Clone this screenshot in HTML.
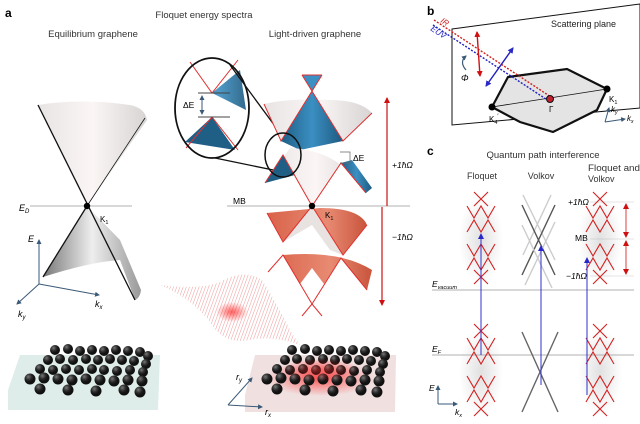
<!DOCTYPE html>
<html><head><meta charset="utf-8"><style>
html,body{margin:0;padding:0;background:#fff;}
svg{display:block;font-family:"Liberation Sans",sans-serif;}
</style></head><body>
<svg width="640" height="424" viewBox="0 0 640 424" xmlns="http://www.w3.org/2000/svg">
<defs>
<linearGradient id="wg" x1="0" x2="1"><stop offset="0" stop-color="#e8e4e4"/><stop offset=".5" stop-color="#fbf6f5"/><stop offset="1" stop-color="#d8d4d4"/></linearGradient>
<linearGradient id="gg" x1="0" x2="1"><stop offset="0" stop-color="#777"/><stop offset=".5" stop-color="#eee"/><stop offset="1" stop-color="#999"/></linearGradient>
<linearGradient id="bg" x1="0" x2="1"><stop offset="0" stop-color="#1f5f86"/><stop offset=".5" stop-color="#3b8fc2"/><stop offset="1" stop-color="#1d5a80"/></linearGradient>
<linearGradient id="og" x1="0" x2="1"><stop offset="0" stop-color="#d9624a"/><stop offset=".6" stop-color="#e88a72"/><stop offset="1" stop-color="#c9543c"/></linearGradient>
<radialGradient id="glow"><stop offset="0" stop-color="#ff2020" stop-opacity=".7"/><stop offset="1" stop-color="#ff2020" stop-opacity="0"/></radialGradient>
<radialGradient id="sh"><stop offset="0" stop-color="#999" stop-opacity=".3"/><stop offset="1" stop-color="#999" stop-opacity="0"/></radialGradient>
<radialGradient id="ball" cx=".35" cy=".3"><stop offset="0" stop-color="#777"/><stop offset=".6" stop-color="#2a2a2a"/><stop offset="1" stop-color="#111"/></radialGradient>
<pattern id="stripes" width="3" height="3" patternUnits="userSpaceOnUse" patternTransform="rotate(20)"><line x1="0" y1="0" x2="0" y2="3" stroke="#e04848" stroke-width="1"/></pattern>
<marker id="ar" markerUnits="userSpaceOnUse" markerWidth="6" markerHeight="6" refX="5" refY="3" orient="auto-start-reverse"><path d="M0,0L6,3L0,6z" fill="#d01010"/></marker>
<marker id="ab" markerUnits="userSpaceOnUse" markerWidth="6" markerHeight="6" refX="5" refY="3" orient="auto-start-reverse"><path d="M0,0L6,3L0,6z" fill="#2828c8"/></marker>
<marker id="ak" markerUnits="userSpaceOnUse" markerWidth="5" markerHeight="5" refX="4" refY="2.5" orient="auto-start-reverse"><path d="M0,0L5,2.5L0,5z" fill="#3a5a78"/></marker>
<g id="zz" fill="none" stroke="#d42020" stroke-width="1.1">
<path d="M-7,0 L7,14 M7,0 L-7,14"/>
<path d="M-14,14 L-7,26 L0,14 L7,26 L14,14"/>
<path d="M-14,40 L-7,28 L0,40 L7,28 L14,40"/>
<path d="M-14,52 L-7,64 L0,52 L7,64 L14,52"/>
<path d="M-14,78 L-7,66 L0,78 L7,66 L14,78"/>
<path d="M-7,78 L7,92 M7,78 L-7,92"/>
</g>
</defs>

<text x="5" y="17" font-size="12" font-weight="bold">a</text>
<text x="204" y="18" font-size="9.5" text-anchor="middle" fill="#333">Floquet energy spectra</text>
<text x="93" y="37" font-size="9.5" text-anchor="middle" fill="#333">Equilibrium graphene</text>
<text x="315" y="37" font-size="9.5" text-anchor="middle" fill="#333">Light-driven graphene</text>

<path d="M38,105 L87,206 L147,120 Q145,108 130,105 Q80,98 38,105z" fill="url(#wg)"/>
<path d="M87,206 L43,277 Q90,262 120,260 L135,300 Q140,298 141,290 L120,240z" fill="url(#gg)"/>
<line x1="38" y1="105" x2="135" y2="300" stroke="#111" stroke-width="1.3"/>
<line x1="87" y1="206" x2="43" y2="277" stroke="#111" stroke-width="1.3"/>
<line x1="87" y1="206" x2="145" y2="118" stroke="#111" stroke-width=".8"/>
<line x1="30" y1="206" x2="132" y2="206" stroke="#999" stroke-width=".8"/>
<circle cx="87" cy="206" r="3.2" fill="#000"/>
<text x="19" y="211" font-size="9" font-style="italic">E<tspan font-size="6" dy="2">D</tspan></text>
<text x="100" y="222" font-size="8">K<tspan font-size="5.5" dy="2">1</tspan></text>
<line x1="39" y1="284" x2="39" y2="240" stroke="#3a5a78" marker-end="url(#ak)"/>
<line x1="39" y1="284" x2="99" y2="295" stroke="#3a5a78" marker-end="url(#ak)"/>
<line x1="39" y1="284" x2="17" y2="304" stroke="#3a5a78" marker-end="url(#ak)"/>
<text x="28" y="242" font-size="9" font-style="italic">E</text>
<text x="95" y="307" font-size="9" font-style="italic">k<tspan font-size="6" dy="2">x</tspan></text>
<text x="18" y="317" font-size="9" font-style="italic">k<tspan font-size="6" dy="2">y</tspan></text>

<ellipse cx="212" cy="108" rx="37" ry="50" fill="#fff"/>
<path d="M190,62 L212,93 L240,70 L246,110 L212,93 z" fill="url(#bg)" opacity=".9"/>
<path d="M185,142 L212,117 L235,150 z" fill="#1f5f86"/>
<path d="M190,62 L212,93 L238,60" fill="none" stroke="#e03030" stroke-width="1"/>
<path d="M186,148 L212,117 L238,150" fill="none" stroke="#e03030" stroke-width="1"/>
<line x1="198" y1="93" x2="230" y2="93" stroke="#444"/>
<line x1="198" y1="117" x2="230" y2="117" stroke="#444"/>
<line x1="202" y1="96" x2="202" y2="114" stroke="#3a5a78" marker-end="url(#ak)" marker-start="url(#ak)"/>
<text x="183" y="108" font-size="8.5">ΔE</text>
<ellipse cx="212" cy="108" rx="37" ry="50" fill="none" stroke="#111" stroke-width="1.8"/>
<line x1="230" y1="65" x2="283" y2="137" stroke="#111" stroke-width="1.3"/>
<line x1="215" y1="158" x2="283" y2="172" stroke="#111" stroke-width="1.3"/>

<path d="M302,75 L322,75 L312,91z" fill="#3b8fc2"/>
<path d="M264,104 L281,141 L312,91 L343,141 L372,113 Q360,100 330,100 Q290,98 264,104z" fill="url(#wg)"/>
<path d="M281,141 L312,91 L343,141 L300,150z" fill="url(#bg)"/>
<path d="M265,183 L283,155 L312,206 L341,163 L366,193 Q340,150 290,148z" fill="url(#wg)"/>
<path d="M265,183 L283,155 L295,175z" fill="#1f5f86"/>
<path d="M341,163 L366,193 L372,188 L352,160z" fill="url(#bg)"/>
<path d="M302,75 L322,75 M302,75 L343,141 L372,113 M322,75 L281,141 L264,104" fill="none" stroke="#e03030" stroke-width="1"/>
<path d="M265,183 L283,155 L312,206 L341,163 L366,193" fill="none" stroke="#e03030" stroke-width="1"/>
<path d="M267,213 L283,242 L312,206 L343,255 L367,225 Q360,208 320,208z" fill="url(#og)"/>
<path d="M283,242 L312,206 L343,255 L330,250 L312,225z" fill="#e8e2e0"/>
<path d="M268,272 L283,255 L300,284 L312,268 L324,284 L341,258 L367,290 L372,270 Q340,250 283,255z" fill="url(#og)"/>
<path d="M267,213 L283,242 L312,206 L343,255 L367,225" fill="none" stroke="#e03030" stroke-width="1"/>
<path d="M268,272 L283,255 L312,304 L341,258 L367,290 M312,304 L302,316 M312,304 L322,316" fill="none" stroke="#e03030" stroke-width="1"/>
<ellipse cx="283" cy="155" rx="18" ry="22" fill="none" stroke="#111" stroke-width="1.5"/>
<line x1="227" y1="206" x2="410" y2="206" stroke="#999" stroke-width=".8"/>
<circle cx="312" cy="206" r="3.2" fill="#000"/>
<text x="233" y="204" font-size="8.5">MB</text>
<text x="325" y="218" font-size="8">K<tspan font-size="5.5" dy="2">1</tspan></text>
<path d="M340,152 L350,152 L350,163 L340,163" fill="none" stroke="#666" stroke-width=".7"/>
<text x="353" y="161" font-size="8.5">ΔE</text>
<line x1="387" y1="206" x2="387" y2="98" stroke="#d01010" stroke-width="1.2" marker-end="url(#ar)"/>
<line x1="382" y1="207" x2="382" y2="305" stroke="#d01010" stroke-width="1.2" marker-end="url(#ar)"/>
<text x="392" y="168" font-size="8.5" font-style="italic">+1ħΩ</text>
<text x="392" y="240" font-size="8.5" font-style="italic">−1ħΩ</text>

<path d="M160,285 Q200,290 220,282 Q245,268 262,280 Q275,300 290,330 Q296,340 300,345 Q270,335 250,340 Q225,345 212,325 Q195,300 160,285z" fill="url(#stripes)" opacity=".55"/>
<ellipse cx="232" cy="312" rx="16" ry="10" fill="url(#glow)"/>

<path d="M8,390 L20,355 L160,355 L158,410 L8,410z" fill="#d6e8e4" opacity=".8"/>
<path d="M245,395 L255,355 L396,355 L395,412 L245,412z" fill="#f0e0e0"/>
<ellipse cx="320" cy="378" rx="55" ry="18" fill="url(#glow)"/>
<g id="lat" fill="url(#ball)">
<circle cx="55" cy="350" r="5"/><circle cx="68" cy="349" r="5"/><circle cx="80" cy="351" r="5"/><circle cx="92" cy="350" r="5"/><circle cx="104" cy="351" r="5"/><circle cx="116" cy="350" r="5"/><circle cx="128" cy="351" r="5"/><circle cx="140" cy="352" r="5"/><circle cx="148" cy="356" r="5"/>
<circle cx="48" cy="360" r="5"/><circle cx="60" cy="359" r="5"/><circle cx="73" cy="360" r="5"/><circle cx="86" cy="359" r="5"/><circle cx="98" cy="360" r="5"/><circle cx="110" cy="359" r="5"/><circle cx="122" cy="360" r="5"/><circle cx="134" cy="361" r="5"/><circle cx="146" cy="364" r="5"/>
<circle cx="40" cy="369" r="5"/><circle cx="53" cy="370" r="5"/><circle cx="66" cy="369" r="5"/><circle cx="79" cy="370" r="5"/><circle cx="92" cy="369" r="5"/><circle cx="104" cy="370" r="5"/><circle cx="117" cy="371" r="5"/><circle cx="130" cy="370" r="5"/><circle cx="143" cy="372" r="5"/>
<circle cx="30" cy="379" r="5.5"/><circle cx="44" cy="378" r="5.5"/><circle cx="58" cy="379" r="5.5"/><circle cx="72" cy="380" r="5.5"/><circle cx="86" cy="379" r="5.5"/><circle cx="100" cy="380" r="5.5"/><circle cx="114" cy="381" r="5.5"/><circle cx="128" cy="380" r="5.5"/><circle cx="142" cy="381" r="5.5"/>
<circle cx="40" cy="389" r="5.5"/><circle cx="68" cy="390" r="5.5"/><circle cx="96" cy="391" r="5.5"/><circle cx="124" cy="390" r="5.5"/><circle cx="140" cy="392" r="5.5"/>
</g>
<use href="#lat" transform="translate(237,0)"/>
<ellipse cx="320" cy="370" rx="40" ry="12" fill="url(#glow)" opacity=".6"/>
<line x1="228" y1="405" x2="252" y2="378" stroke="#3a5a78" marker-end="url(#ak)"/>
<line x1="228" y1="405" x2="262" y2="407" stroke="#3a5a78" marker-end="url(#ak)"/>
<text x="236" y="380" font-size="9" font-style="italic">r<tspan font-size="6" dy="2">y</tspan></text>
<text x="265" y="415" font-size="9" font-style="italic">r<tspan font-size="6" dy="2">x</tspan></text>

<text x="427" y="15" font-size="12" font-weight="bold">b</text>
<path d="M452,29 L640,4 L640,108 L452,125z" fill="#fff" stroke="#111" stroke-width="1"/>
<text x="551" y="27" font-size="9" fill="#222">Scattering plane</text>
<path d="M508,77 L567,69 L607,89 L597,110 L553,132 L520,122 L492,107z" fill="#e4e4e4" stroke="#111" stroke-width="2.2"/>
<line x1="492" y1="107" x2="607" y2="89" stroke="#111" stroke-width=".8"/>
<line x1="434" y1="20" x2="551" y2="97" stroke="#d02020" stroke-width="1.4" stroke-dasharray="2,1.5"/>
<line x1="433" y1="25" x2="549" y2="101" stroke="#2020c0" stroke-width="1.4" stroke-dasharray="2,1.5"/>
<circle cx="550" cy="99" r="3.5" fill="#c02030" stroke="#111"/>
<text x="440" y="22" font-size="8" fill="#d02020" font-style="italic" transform="rotate(33 440 22)">IR</text>
<text x="430" y="30" font-size="8" fill="#2020c0" font-style="italic" transform="rotate(33 430 30)">EUV</text>
<line x1="477" y1="32" x2="480" y2="76" stroke="#d01010" stroke-width="1.4" marker-end="url(#ar)" marker-start="url(#ar)"/>
<line x1="486" y1="86" x2="513" y2="48" stroke="#2020c0" stroke-width="1.4" marker-end="url(#ab)" marker-start="url(#ab)"/>
<path d="M466,70 Q459,62 466,56" fill="none" stroke="#3a5a78" stroke-width="1.2" marker-end="url(#ak)"/>
<text x="461" y="81" font-size="9" font-style="italic">Φ</text>
<circle cx="492" cy="107" r="3.5" fill="#000"/><circle cx="607" cy="89" r="3.5" fill="#000"/>
<text x="549" y="112" font-size="8">Γ</text>
<text x="489" y="122" font-size="8">K<tspan font-size="5.5" dy="2">4</tspan><tspan dy="-6" font-size="6">′</tspan></text>
<text x="609" y="102" font-size="8">K<tspan font-size="5.5" dy="2">1</tspan></text>
<line x1="605" y1="122" x2="609" y2="108" stroke="#3a5a78" marker-end="url(#ak)"/>
<line x1="605" y1="122" x2="625" y2="119" stroke="#3a5a78" marker-end="url(#ak)"/>
<text x="611" y="112" font-size="8" font-style="italic">k<tspan font-size="5" dy="2">y</tspan></text>
<text x="627" y="121" font-size="8" font-style="italic">k<tspan font-size="5" dy="2">x</tspan></text>

<text x="427" y="155" font-size="12" font-weight="bold">c</text>
<text x="543" y="158" font-size="9.5" text-anchor="middle" fill="#333">Quantum path interference</text>
<text x="482" y="179" font-size="9" text-anchor="middle" fill="#333">Floquet</text>
<text x="541" y="179" font-size="9" text-anchor="middle" fill="#333">Volkov</text>
<text x="588" y="171" font-size="9" fill="#333" textLength="52" lengthAdjust="spacingAndGlyphs">Floquet and</text>
<text x="588" y="182" font-size="9" fill="#333">Volkov</text>

<line x1="432" y1="290" x2="634" y2="290" stroke="#999" stroke-width=".8"/>
<line x1="432" y1="355" x2="634" y2="355" stroke="#999" stroke-width=".8"/>
<text x="432" y="287" font-size="8.5" font-style="italic">E<tspan font-size="5.5" dy="2">vacuum</tspan></text>
<text x="432" y="352" font-size="8.5" font-style="italic">E<tspan font-size="5.5" dy="2">F</tspan></text>
<g stroke="#ddd" stroke-width=".8"><line x1="590" y1="202" x2="634" y2="202"/><line x1="590" y1="239" x2="634" y2="239"/><line x1="590" y1="276" x2="634" y2="276"/></g>

<ellipse cx="481" cy="240" rx="22" ry="45" fill="url(#sh)"/>
<ellipse cx="481" cy="372" rx="22" ry="45" fill="url(#sh)"/>
<ellipse cx="600" cy="240" rx="22" ry="45" fill="url(#sh)"/>
<ellipse cx="600" cy="372" rx="22" ry="45" fill="url(#sh)"/>
<use href="#zz" transform="translate(481,192)"/>
<use href="#zz" transform="translate(481,324)"/>
<use href="#zz" transform="translate(600,192)"/>
<use href="#zz" transform="translate(600,324)"/>

<text x="568" y="205" font-size="8.5" font-style="italic">+1ħΩ</text>
<text x="575" y="241" font-size="8.5">MB</text>
<text x="566" y="279" font-size="8.5" font-style="italic">−1ħΩ</text>
<line x1="626" y1="204" x2="626" y2="237" stroke="#d01010" stroke-width=".8" marker-end="url(#ar)" marker-start="url(#ar)"/>
<line x1="626" y1="241" x2="626" y2="274" stroke="#d01010" stroke-width=".8" marker-end="url(#ar)" marker-start="url(#ar)"/>

<g stroke-width="1.4" fill="none">
<path d="M523,195 L555,260 M551,195 L523,255" stroke="#ccc"/>
<path d="M522,205 L555,275 M555,205 L522,275" stroke="#555"/>
<path d="M522,225 L552,288 M555,222 L525,285" stroke="#ccc"/>
<path d="M522,332 L558,412 M558,332 L522,412" stroke="#666"/>
</g>

<line x1="481" y1="355" x2="481" y2="234" stroke="#3030d0" stroke-width="1" marker-end="url(#ab)"/>
<line x1="541" y1="385" x2="541" y2="246" stroke="#3030d0" stroke-width="1" marker-end="url(#ab)"/>
<line x1="587" y1="395" x2="587" y2="258" stroke="#3030d0" stroke-width="1" marker-end="url(#ab)"/>

<line x1="438" y1="404" x2="438" y2="386" stroke="#3a5a78" marker-end="url(#ak)"/>
<line x1="438" y1="404" x2="457" y2="404" stroke="#3a5a78" marker-end="url(#ak)"/>
<text x="429" y="391" font-size="8.5" font-style="italic">E</text>
<text x="455" y="415" font-size="8.5" font-style="italic">k<tspan font-size="5.5" dy="2">x</tspan></text>
</svg>
</body></html>
